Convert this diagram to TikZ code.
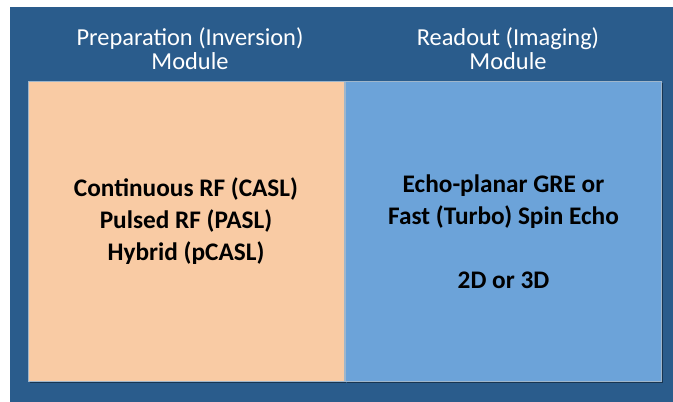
\documentclass[tikz,border=0pt]{standalone}
\usepackage{fontspec}
\setmainfont{Carlito}
\usetikzlibrary{shadows}
\definecolor{slate}{RGB}{42,92,140}
\definecolor{peach}{RGB}{249,203,164}
\definecolor{sky}{RGB}{108,163,217}

\begin{document}
\begin{tikzpicture}[x=1pt,y=-1pt,inner sep=0pt,align=center]
  \tikzstyle{panel}=[draw=white!55!slate,line width=0.6pt,minimum width=316pt,minimum height=300pt,
                     drop shadow={shadow xshift=1.5pt,shadow yshift=-2pt,opacity=0.6,fill=black!70!slate}]
  \tikzstyle{head}=[text=white,font=\fontsize{24.4}{24}\selectfont]
  \tikzstyle{body}=[text=black,font=\fontsize{25.3}{32}\selectfont\bfseries]
  \useasboundingbox (0,0) rectangle (673,402);
  \fill[slate] (10,7) rectangle (673,402);
  % the two modules
  \node[panel,fill=peach] (prep) at (186,231)   {};
  \node[panel,fill=sky]   (read) at (503.5,231) {};
  \node[head] (prepHead) at (190,49) {Preparation (Inversion)\\Module};
  \node[head] (readHead) at (508,49) {Readout (Imaging)\\Module};
  \node[body] (prepText) at ([yshift=9.5pt]prep.center) {Continuous RF (CASL)\\Pulsed RF (PASL)\\Hybrid (pCASL)};
  \node[body] (readText) at ([yshift=-1pt]read.center)  {Echo-planar GRE or\\Fast (Turbo) Spin Echo\\ \\2D or 3D};
\end{tikzpicture}
\end{document}
